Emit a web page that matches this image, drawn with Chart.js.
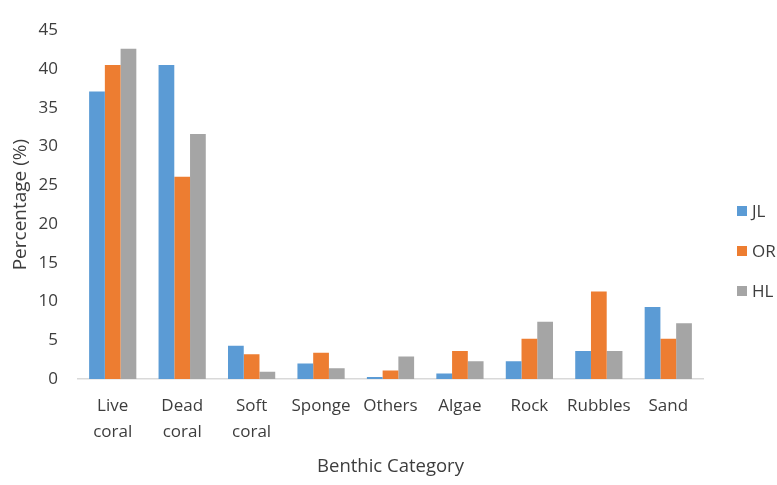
<!DOCTYPE html>
<html>
<head>
<meta charset="utf-8">
<script src="https://cdn.jsdelivr.net/npm/chart.js@4"></script>
<style>
  html, body { margin: 0; padding: 0; background: #fff; overflow: hidden; }
  #wrap { width: 777px; height: 485px; position: relative; }
</style>
</head>
<body>
<div id="wrap"><canvas id="c" width="777" height="485"></canvas></div>
<script>
// Benthic cover by site
const categories = [["Live", "coral"], ["Dead", "coral"], ["Soft", "coral"], "Sponge", "Others", "Algae", "Rock", "Rubbles", "Sand"];
const seriesNames = ["JL", "OR", "HL"];
const jlValues = [37.1, 40.5, 4.3, 2.0, 0.25, 0.7, 2.3, 3.6, 9.3];
const orValues = [40.5, 26.1, 3.2, 3.4, 1.1, 3.6, 5.2, 11.3, 5.2];
const hlValues = [42.6, 31.6, 0.95, 1.4, 2.9, 2.3, 7.4, 3.6, 7.2];
const yTicks = [0, 5, 10, 15, 20, 25, 30, 35, 40, 45];

const colors = ["#5B9BD5", "#ED7D31", "#A5A5A5"];
const FONT = "'Open Sans', Lato, sans-serif";
const TEXT = "#3d3d3d";

// Legend drawn at the right edge, stacked vertically
const sideLegend = {
  id: "sideLegend",
  afterDraw(chart) {
    const ctx = chart.ctx;
    ctx.save();
    ctx.font = "17px " + FONT;
    ctx.textBaseline = "middle";
    const ys = [211, 251, 291];
    chart.data.datasets.forEach((ds, i) => {
      ctx.fillStyle = ds.backgroundColor;
      ctx.fillRect(737, ys[i] - 5, 10, 10);
      ctx.fillStyle = TEXT;
      ctx.fillText(ds.label, 752, ys[i] + 1);
    });
    ctx.restore();
  }
};

new Chart(document.getElementById("c"), {
  type: "bar",
  data: {
    labels: categories,
    datasets: [
      { label: seriesNames[0], data: jlValues, backgroundColor: colors[0] },
      { label: seriesNames[1], data: orValues, backgroundColor: colors[1] },
      { label: seriesNames[2], data: hlValues, backgroundColor: colors[2] }
    ]
  },
  options: {
    responsive: false,
    animation: false,
    events: [],
    layout: { padding: { top: 15, right: 74, left: 0, bottom: 0 } },
    datasets: { bar: { categoryPercentage: 0.68, barPercentage: 1.0 } },
    plugins: {
      legend: { display: false },
      tooltip: { enabled: false }
    },
    scales: {
      x: {
        grid: { display: false, drawTicks: false },
        border: { display: true, color: "#D9D9D9", width: 1.5 },
        ticks: {
          color: TEXT,
          font: { family: FONT, size: 17, lineHeight: 1.53 },
          padding: 14,
          maxRotation: 0,
          autoSkip: false
        },
        title: {
          display: true,
          text: "Benthic Category",
          color: TEXT,
          font: { family: FONT, size: 18.5, lineHeight: 1.2 },
          padding: { top: 0, bottom: 7 }
        },
        afterFit(scale) { scale.height = 106; }
      },
      y: {
        min: 0,
        max: 45,
        afterBuildTicks(scale) { scale.ticks = yTicks.map(v => ({ value: v })); },
        grid: { display: false, drawTicks: false },
        border: { display: false },
        ticks: {
          color: TEXT,
          font: { family: FONT, size: 17 },
          padding: 20
        },
        title: {
          display: true,
          text: "Percentage (%)",
          color: TEXT,
          font: { family: FONT, size: 19, lineHeight: 1.2 },
          padding: { top: 9, bottom: 0 }
        },
        afterFit(scale) { scale.width = 78; }
      }
    }
  },
  plugins: [sideLegend]
});
</script>
</body>
</html>
